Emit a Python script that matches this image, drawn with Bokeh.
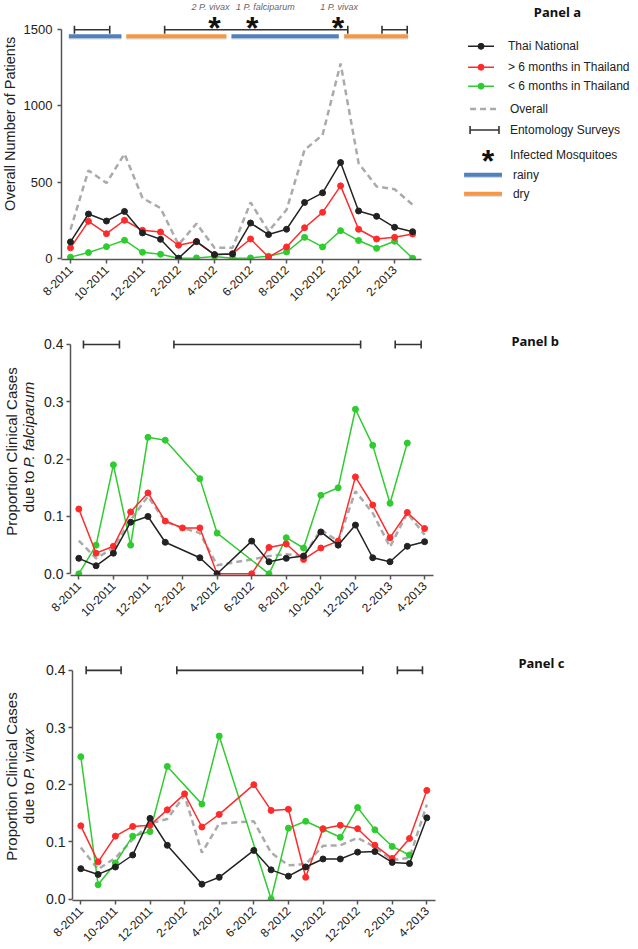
import math
from bokeh.plotting import figure
from bokeh.models import (Range1d, FixedTicker, NumeralTickFormatter, ColumnDataSource,
                          Whisker, TeeHead)
from bokeh.layouts import column, row
from bokeh.embed import file_html
from bokeh.resources import INLINE
from bokeh.core.properties import value

# ---------------- data ----------------
months = ["8-2011", "9-2011", "10-2011", "11-2011", "12-2011", "1-2012", "2-2012",
          "3-2012", "4-2012", "5-2012", "6-2012", "7-2012", "8-2012", "9-2012",
          "10-2012", "11-2012", "12-2012", "1-2013", "2-2013", "3-2013", "4-2013"]

# Panel a: overall number of patients (8-2011 .. 3-2013)
thai_a = [107, 290, 244, 307, 166, 124, 0, 109, 24, 28, 231, 155, 190, 366, 429, 628, 310, 275, 203, 174]
gt6_a = [68, 242, 161, 249, 183, 172, 85, 109, 22, 30, 126, 7, 74, 200, 301, 475, 190, 126, 137, 159]
lt6_a = [7, 37, 76, 118, 39, 26, 0, 2, 11, 0, 2, 13, 41, 137, 74, 181, 116, 65, 111, 0]
overall_a = [187, 576, 493, 685, 395, 329, 89, 227, 68, 68, 366, 177, 318, 711, 809, 1278, 624, 471, 453, 351]

# Panel b: proportion due to P. falciparum (8-2011 .. 4-2013)
thai_b = [0.027, 0.014, 0.036, 0.090, 0.100, 0.055, None, 0.028, 0.000, None, 0.057,
          0.021, 0.027, 0.031, 0.073, 0.050, 0.085, 0.028, 0.021, 0.048, 0.056]
gt6_b = [0.113, 0.036, 0.048, 0.108, 0.141, 0.092, 0.080, 0.080, 0.000, None, 0.000,
         0.046, 0.052, 0.025, 0.045, 0.057, 0.169, 0.120, 0.063, 0.107, 0.079]
lt6_b = [0.000, 0.050, 0.190, 0.050, 0.238, 0.233, None, 0.166, 0.071, None, None,
         0.000, 0.063, 0.045, 0.137, 0.150, 0.287, 0.224, 0.123, 0.228, None]
overall_b = [0.058, 0.027, 0.045, 0.094, 0.135, 0.091, 0.080, 0.071, 0.015, None, 0.025,
             0.031, 0.034, 0.031, 0.077, 0.057, 0.144, 0.106, 0.047, 0.106, 0.068]

# Panel c: proportion due to P. vivax
thai_c = [0.053, 0.043, 0.056, 0.077, 0.141, 0.094, None, 0.026, 0.038, None, 0.085,
          0.051, 0.040, 0.056, 0.070, 0.070, 0.082, 0.083, 0.064, 0.062, 0.142]
gt6_c = [0.128, 0.065, 0.110, 0.127, 0.129, 0.156, 0.184, 0.126, 0.148, None, 0.200,
         0.155, 0.157, 0.038, 0.123, 0.129, 0.123, 0.094, 0.071, 0.106, 0.190]
lt6_c = [0.249, 0.025, 0.063, 0.110, 0.118, 0.232, None, 0.166, 0.285, None, None,
         0.000, 0.124, 0.136, 0.122, 0.108, 0.160, 0.121, 0.092, 0.077, None]
overall_c = [0.090, 0.052, 0.072, 0.104, 0.132, 0.140, 0.181, 0.081, 0.132, None, 0.136,
             0.081, 0.059, 0.061, 0.093, 0.094, 0.107, 0.091, 0.068, 0.072, 0.165]

# Entomology survey periods (month index)
survey_a_start = [0.22, 5.23, 17.3]
survey_a_end = [2.18, 15.4, 18.7]
survey_b_start = [0.27, 5.5, 18.3]
survey_b_end = [2.35, 16.3, 19.8]
survey_c_start = [0.31, 5.55, 18.3]
survey_c_end = [2.33, 16.3, 19.75]

# Seasons
season_start = [-0.09, 3.1, 8.94, 15.2]
season_end = [2.83, 8.66, 14.9, 18.75]
season_type = ["rainy", "dry", "rainy", "dry"]

# Infected mosquitoes
mosq_month = [8.0, 10.1, 14.86]
mosq_text = ["2 P. vivax", "1 P. falciparum", "1 P. vivax"]

legend_labels = ["Thai National", "> 6 months in Thailand", "< 6 months in Thailand",
                 "Overall", "Entomology Surveys", "Infected Mosquitoes", "rainy", "dry"]

# ---------------- style ----------------
FONT = "Liberation Sans"
BLACK = "#222222"
RED = "#ff2b2b"
GREEN = "#2fcc2f"
GRAY = "#aaaaaa"
BLUE = "#4f81bd"
ORANGE = "#f79646"
AXIS = "#555555"
SEASON_COL = {"rainy": BLUE, "dry": ORANGE}
PAGE_W = 638
MSIZE = 6


def pts(vals):
    xs = [i for i, v in enumerate(vals) if v is not None]
    ys = [v for v in vals if v is not None]
    return xs, ys


def whisker(src, head=8):
    return Whisker(source=src, base="base", lower="lower", upper="upper",
                   dimension="width", line_color="#333333", line_width=1.6,
                   lower_head=TeeHead(size=head, line_color="#333333", line_width=1.6),
                   upper_head=TeeHead(size=head, line_color="#333333", line_width=1.6))


class LabelFig:
    """narrow figure at the left holding the rotated y-axis title"""
    def __init__(self, width, height, fig_top):
        self.h, self.top = height, fig_top
        p = figure(width=width, height=height, x_range=Range1d(0, width), y_range=Range1d(0, height),
                   output_backend="svg", toolbar_location=None, x_axis_type=None, y_axis_type=None,
                   min_border=0, min_border_left=0, min_border_right=0, min_border_top=0,
                   min_border_bottom=0)
        p.outline_line_color = None
        p.grid.grid_line_color = None
        self.p = p

    def text(self, px, py, txt, size, style="normal", align="center"):
        self.p.text([px], [self.top + self.h - py], text=[txt], text_font=value(FONT),
                    text_font_size=size, text_font_style=style, text_align=align,
                    text_baseline="middle", angle=math.pi / 2, text_color="#222222")

    def two_lines(self, cy, species, fs=15):
        self.text(10.5, cy, "Proportion Clinical Cases", f"{fs}px")
        w_due = 2.78 * fs
        w_sp = 0.278 * fs
        total = w_due + w_sp + (5.835 if "falc" in species else 3.501) * fs
        split = cy + total / 2 - w_due
        # "due to" ends at the split point, the italic species name starts one space above it
        self.text(27.5, split, "due to", f"{fs}px", align="right")
        self.text(27.5, split - w_sp, species, f"{fs}px", style="italic", align="left")


class Panel:
    def __init__(self, fig_top, frame_top, frame_bottom, height, left_off, frame_left,
                 x0, dx, y0, dy, n_ticks, bound_hi, y_ticks, y_bound, y_font, y_stand, fmt=None):
        self.x0, self.dx, self.y0, self.dy = x0, dx, y0, dy
        p = figure(width=PAGE_W - left_off, height=height,
                   x_range=Range1d((frame_left - x0) / dx, (PAGE_W - x0) / dx),
                   y_range=Range1d((y0 - frame_bottom) / dy, (y0 - frame_top) / dy),
                   output_backend="svg", toolbar_location=None,
                   min_border_left=frame_left - left_off, min_border_right=0,
                   min_border_top=frame_top - fig_top,
                   min_border_bottom=fig_top + height - frame_bottom)
        p.outline_line_color = None
        p.grid.grid_line_color = None
        p.background_fill_color = "white"
        p.border_fill_color = "white"
        tick_idx = list(range(0, n_ticks, 2))
        p.xaxis.ticker = FixedTicker(ticks=tick_idx)
        p.xaxis.major_label_overrides = {i: months[i] for i in tick_idx}
        p.xaxis.major_label_orientation = math.pi / 4
        p.xaxis.bounds = ((frame_left - x0) / dx, bound_hi)
        p.xaxis.major_label_text_font_size = "12px"
        p.xaxis.major_label_standoff = 4
        p.yaxis.ticker = FixedTicker(ticks=y_ticks)
        p.yaxis.bounds = y_bound
        p.yaxis.major_label_text_font_size = y_font
        p.yaxis.major_label_standoff = y_stand
        if fmt:
            p.yaxis.formatter = NumeralTickFormatter(format=fmt)
        p.axis.minor_tick_line_color = None
        p.axis.axis_line_color = AXIS
        p.axis.axis_line_width = 1.5
        p.axis.major_tick_line_color = AXIS
        p.axis.major_tick_line_width = 1.5
        p.axis.major_tick_in = 0
        p.axis.major_tick_out = 4
        p.axis.major_label_text_font = FONT
        p.axis.major_label_text_color = "#222222"
        self.p = p

    def X(self, px):
        return (px - self.x0) / self.dx

    def Y(self, py):
        return (self.y0 - py) / self.dy

    def series(self, thai, gt6, lt6, overall):
        p = self.p
        x, y = pts(overall)
        p.line(x, y, line_color=GRAY, line_width=2.5, line_dash="6 4")
        for vals, col in [(lt6, GREEN), (gt6, RED), (thai, BLACK)]:
            x, y = pts(vals)
            p.line(x, y, line_color=col, line_width=1.5)
            p.scatter(x, y, size=MSIZE, fill_color=col, line_color=col)

    def surveys(self, starts, ends, base_val):
        src = ColumnDataSource(dict(lower=starts, upper=ends, base=[base_val] * len(starts)))
        self.p.add_layout(whisker(src))

    def text(self, px, py, txt, size="12px", style="normal", align="left", font=FONT,
             color="#222222"):
        self.p.text([self.X(px)], [self.Y(py)], text=[txt], text_font=value(font),
                    text_font_size=size, text_font_style=style, text_align=align,
                    text_baseline="middle", text_color=color)


# ---------------- Panel a ----------------
A = Panel(fig_top=0, frame_top=0, frame_bottom=260, height=308, left_off=20, frame_left=59,
          x0=68, dx=18.07, y0=258.7, dy=229.4 / 1500, n_ticks=19, bound_hi=19.5,
          y_ticks=[0, 500, 1000, 1500], y_bound=(0, 1500), y_font="13px", y_stand=5)
pa = A.p
s_col = [SEASON_COL[s] for s in season_type]
sy = A.Y(36)
sh = A.Y(37.6)
pa.segment(season_start, [sh] * 4, season_end, [sh] * 4, line_color="#bdbdbd", line_width=3,
           line_alpha=0.6)
pa.segment(season_start, [sy] * 4, season_end, [sy] * 4, line_color=s_col, line_width=4)
A.surveys(survey_a_start, survey_a_end, 1500)
# infected mosquitoes (asterisk centre ~6px above the alphabetic anchor)
pa.text(mosq_month, [A.Y(28)] * 3, text=["*"] * 3, text_font=value(FONT), text_font_style="bold",
        text_font_size="32px", text_align="center", text_baseline="alphabetic", text_color="#111111")
pa.text(mosq_month, [A.Y(6.5)] * 3, text=mosq_text, text_font=value(FONT), text_font_style="italic",
        text_font_size="9px", text_align="center", text_baseline="middle", text_color="#666666",
        x_offset=[-4, 13, 1])
A.series(thai_a, gt6_a, lt6_a, overall_a)

# legend (manual)
rows = [46, 67, 86, 109, 130, 155, 175, 194]
for (col, ry) in [(BLACK, rows[0]), (RED, rows[1]), (GREEN, rows[2])]:
    pa.line([A.X(467), A.X(493)], [A.Y(ry)] * 2, line_color=col, line_width=1.5)
    pa.scatter([A.X(480)], [A.Y(ry)], size=MSIZE, fill_color=col, line_color=col)
pa.line([A.X(469), A.X(495)], [A.Y(rows[3])] * 2, line_color=GRAY, line_width=2.5, line_dash="6 4")
pa.add_layout(whisker(ColumnDataSource(dict(lower=[A.X(469)], upper=[A.X(498)],
                                            base=[A.Y(rows[4])]))))
pa.text([A.X(487)], [A.Y(rows[5] + 6)], text=["*"], text_font=value(FONT), text_font_style="bold",
        text_font_size="32px", text_align="center", text_baseline="alphabetic", text_color="#111111")
for ry, col in [(rows[6], BLUE), (rows[7], ORANGE)]:
    pa.segment([A.X(463)], [A.Y(ry + 1.6)], [A.X(501)], [A.Y(ry + 1.6)],
               line_color="#bdbdbd", line_width=3, line_alpha=0.6)
    pa.segment([A.X(463)], [A.Y(ry)], [A.X(501)], [A.Y(ry)], line_color=col, line_width=4)
leg_x = [507, 507, 507, 509, 509, 509, 512, 512]
pa.text([A.X(x) for x in leg_x], [A.Y(r) for r in rows], text=legend_labels,
        text_font=value(FONT), text_font_size="12px", text_align="left", text_baseline="middle",
        text_color="#222222")
A.text(533, 12, "Panel a", size="13px", style="bold", font="Noto Sans", color="#111111")
LA = LabelFig(20, 308, 0)
LA.text(9.5, 146.7, "Overall Number of Patients", "14.5px")

# ---------------- Panel b ----------------
B = Panel(fig_top=308, frame_top=334, frame_bottom=576, height=316, left_off=41, frame_left=70,
          x0=78.3, dx=17.29, y0=574.3, dy=230.3 / 0.4, n_ticks=21, bound_hi=20.5,
          y_ticks=[0, 0.1, 0.2, 0.3, 0.4], y_bound=(0, 0.4), y_font="14px", y_stand=3, fmt="0.0")
B.surveys(survey_b_start, survey_b_end, 0.4)
B.series(thai_b, gt6_b, lt6_b, overall_b)
B.text(511, 341, "Panel b", size="13px", style="bold", font="Noto Sans", color="#111111")
LB = LabelFig(41, 316, 308)
LB.two_lines(461.5, "P. falciparum")

# ---------------- Panel c ----------------
C = Panel(fig_top=624, frame_top=652, frame_bottom=902, height=325, left_off=41, frame_left=72,
          x0=80.3, dx=17.3, y0=900.5, dy=230.5 / 0.4, n_ticks=21, bound_hi=20.5,
          y_ticks=[0, 0.1, 0.2, 0.3, 0.4], y_bound=(0, 0.4), y_font="14px", y_stand=3, fmt="0.0")
C.surveys(survey_c_start, survey_c_end, 0.4)
C.series(thai_c, gt6_c, lt6_c, overall_c)
C.text(518, 663, "Panel c", size="13px", style="bold", font="Noto Sans", color="#111111")
LC = LabelFig(41, 325, 624)
LC.two_lines(786.5, "P. vivax")

layout = column(row(LA.p, A.p), row(LB.p, B.p), row(LC.p, C.p))
open("out.html", "w").write(file_html(layout, INLINE))
